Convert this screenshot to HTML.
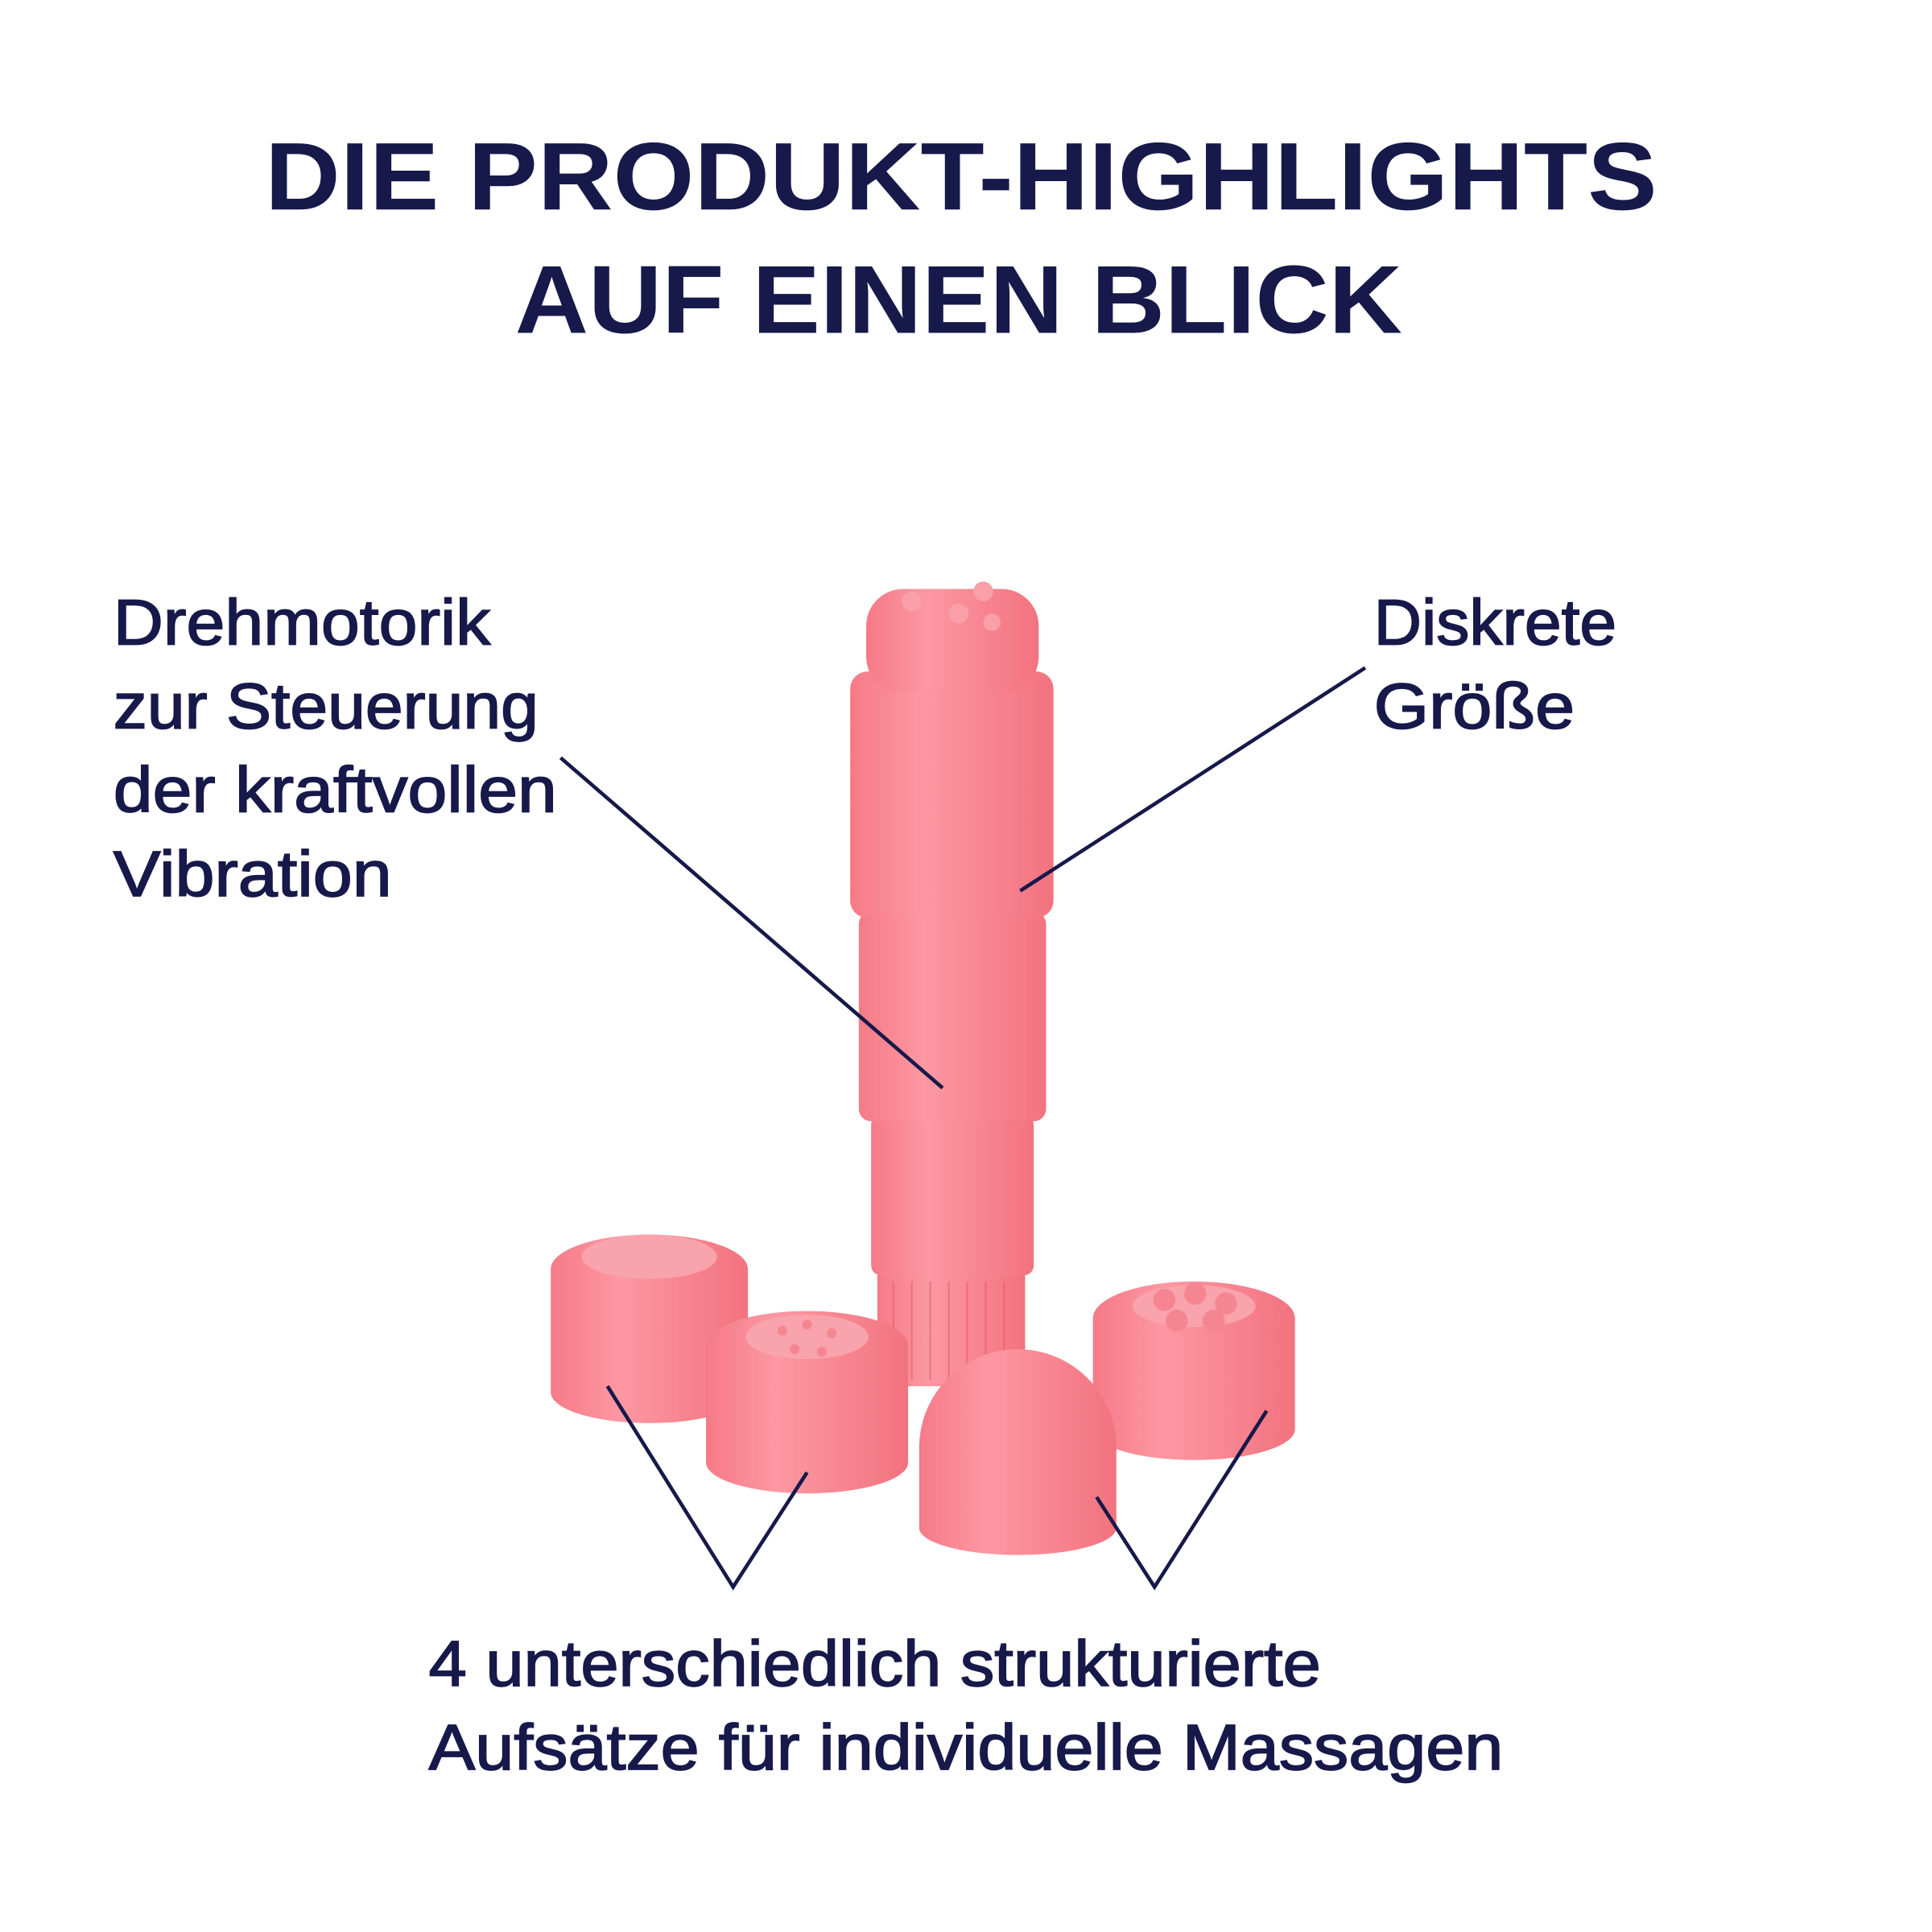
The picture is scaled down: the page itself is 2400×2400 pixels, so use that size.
<!DOCTYPE html>
<html><head><meta charset="utf-8">
<style>
html,body{margin:0;padding:0;background:#fff;}
svg{display:block;}
text{font-family:"Liberation Sans",sans-serif;fill:#17194a;}
.lbl text{stroke:#17194a;stroke-width:1.1;}
</style></head>
<body>
<svg width="2400" height="2400" viewBox="0 0 1568 1568" xmlns="http://www.w3.org/2000/svg">
<defs>
<linearGradient id="pk" x1="0" x2="1" y1="0" y2="0">
<stop offset="0" stop-color="#f67a87"/>
<stop offset="0.35" stop-color="#fc98a2"/>
<stop offset="1" stop-color="#f2737f"/>
</linearGradient>
</defs>
<rect width="1568" height="1568" fill="#fff"/>
<text x="215" y="170" font-size="78" font-weight="bold" textLength="1130" lengthAdjust="spacingAndGlyphs">DIE PRODUKT-HIGHLIGHTS</text>
<text x="418" y="270" font-size="78" font-weight="bold" textLength="720" lengthAdjust="spacingAndGlyphs">AUF EINEN BLICK</text>

<g fill="url(#pk)">
<rect x="712" y="1030" width="120" height="95" rx="6"/>
<rect x="707" y="905" width="132" height="130" rx="8"/>
<rect x="697" y="740" width="152" height="170" rx="10"/>
<rect x="690" y="545" width="165" height="200" rx="14"/>
<rect x="703" y="478" width="140" height="85" rx="30"/>
</g>
<g stroke="#e85f6f" stroke-width="1.5" opacity="0.6">
<line x1="725" y1="1040" x2="725" y2="1120"/><line x1="740" y1="1040" x2="740" y2="1120"/>
<line x1="755" y1="1040" x2="755" y2="1120"/><line x1="770" y1="1040" x2="770" y2="1120"/>
<line x1="785" y1="1040" x2="785" y2="1120"/><line x1="800" y1="1040" x2="800" y2="1120"/>
<line x1="815" y1="1040" x2="815" y2="1120"/>
</g>
<g fill="#f9a0a9"><circle cx="740" cy="488" r="8"/><circle cx="778" cy="498" r="8"/><circle cx="798" cy="480" r="8"/><circle cx="805" cy="505" r="7"/></g>

<g fill="url(#pk)">
<path d="M447,1030 a80,28 0 0 1 160,0 v100 a80,25 0 0 1 -160,0 z"/>
<path d="M573,1092 a82,28 0 0 1 164,0 v95 a82,25 0 0 1 -164,0 z"/>
<path d="M887,1070 a82,30 0 0 1 164,0 v90 a82,25 0 0 1 -164,0 z"/>
<path d="M746,1175 a80,80 0 0 1 160,0 v65 a80,22 0 0 1 -160,0 z"/>
</g>
<g fill="#f9a3ac">
<ellipse cx="527" cy="1020" rx="55" ry="18"/>
<ellipse cx="655" cy="1085" rx="50" ry="18"/>
<ellipse cx="969" cy="1060" rx="50" ry="17"/>
</g>
<g fill="#f58691">
<circle cx="945" cy="1055" r="9"/><circle cx="970" cy="1050" r="9"/><circle cx="995" cy="1058" r="9"/><circle cx="955" cy="1072" r="9"/><circle cx="985" cy="1072" r="9"/>
<circle cx="635" cy="1080" r="4"/><circle cx="655" cy="1075" r="4"/><circle cx="675" cy="1082" r="4"/><circle cx="645" cy="1095" r="4"/><circle cx="667" cy="1097" r="4"/>
</g>

<g stroke="#17194a" stroke-width="3" fill="none">
<line x1="455" y1="615" x2="765" y2="883"/>
<line x1="1108" y1="542" x2="828" y2="723"/>
<polyline points="493,1125 595,1288 655,1195"/>
<polyline points="890,1215 937,1288 1028,1145"/>
</g>

<g font-size="52" class="lbl">
<text x="92" y="523" textLength="306" lengthAdjust="spacingAndGlyphs">Drehmotorik</text>
<text x="92" y="591" textLength="345" lengthAdjust="spacingAndGlyphs">zur Steuerung</text>
<text x="92" y="659" textLength="360" lengthAdjust="spacingAndGlyphs">der kraftvollen</text>
<text x="92" y="727" textLength="226" lengthAdjust="spacingAndGlyphs">Vibration</text>
<text x="1115" y="523" textLength="197" lengthAdjust="spacingAndGlyphs">Diskrete</text>
<text x="1115" y="591" textLength="163" lengthAdjust="spacingAndGlyphs">Größe</text>
<text x="348" y="1368" textLength="724" lengthAdjust="spacingAndGlyphs">4 unterschiedlich strukturierte</text>
<text x="348" y="1436" textLength="872" lengthAdjust="spacingAndGlyphs">Aufsätze für individuelle Massagen</text>
</g>
</svg>
</body></html>
